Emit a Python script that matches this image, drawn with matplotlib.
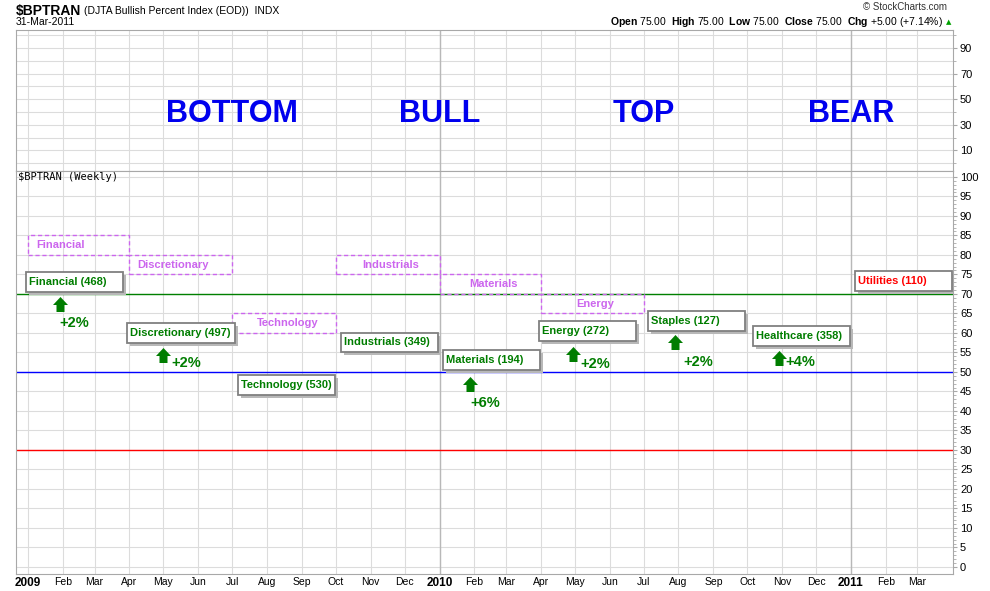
import matplotlib
matplotlib.use("Agg")
import matplotlib.pyplot as plt
import matplotlib.dates as mdates
from matplotlib.patches import Rectangle
from matplotlib.path import Path
from matplotlib import transforms
import pandas as pd

plt.rcParams['font.family'] = ['Liberation Sans', 'DejaVu Sans']
plt.rcParams['mathtext.fontset'] = 'custom'
plt.rcParams['mathtext.rm'] = 'Liberation Sans'
plt.rcParams['mathtext.bf'] = 'Liberation Sans:bold'

# market phases (top panel)
phases = ['BOTTOM', 'BULL', 'TOP', 'BEAR']
phase_dates = ['2009-07-01', '2010-01-01', '2010-07-01', '2011-01-01']

# model sector rotation (dashed boxes)
model_sectors = ['Financial', 'Discretionary', 'Technology', 'Industrials', 'Materials', 'Energy']
model_start = ['2009-01-01', '2009-04-01', '2009-07-01', '2009-10-01', '2010-01-01', '2010-04-01']
model_end = ['2009-04-01', '2009-07-01', '2009-10-01', '2010-01-01', '2010-04-01', '2010-07-01']
model_low = [80, 75, 60, 75, 70, 65]
model_high = [85, 80, 65, 80, 75, 70]

# actual leading sectors (solid boxes)
pick_labels = ['Financial (468)', 'Discretionary (497)', 'Technology (530)', 'Industrials (349)',
               'Materials (194)', 'Energy (272)', 'Staples (127)', 'Healthcare (358)', 'Utilities (110)']
pick_dates = ['2008-12-30', '2009-03-30', '2009-07-06', '2009-10-06', '2010-01-04',
              '2010-03-30', '2010-07-05', '2010-10-06', '2011-01-05']
pick_levels = [70.5, 57.5, 44.2, 55.1, 50.5, 58.0, 60.5, 56.7, 70.8]

# gains
gains = ['+2%', '+2%', '+6%', '+2%', '+2%', '+4%']
gain_dates = ['2009-01-29', '2009-05-01', '2010-01-28', '2010-04-29', '2010-07-29', '2010-10-29']
gain_levels = [67.3, 54.4, 46.8, 54.7, 57.6, 53.5]
gain_text_dates = ['2009-01-29', '2009-05-08', '2010-01-28', '2010-05-06', '2010-08-05', '2010-11-04']
gain_text_levels = [62.6, 52.3, 42.1, 52.1, 52.6, 52.6]

# reference levels
ref_levels = [70, 50, 30]
ref_colors = ['#008000', '#0000ff', '#ff0000']

GREEN = '#007d00'
VIOLET = '#cc66ee'
GRID = '#dcdcdc'
SPINE = '#a8a8a8'

W, H = 990, 591
fig = plt.figure(figsize=(W / 100, H / 100), dpi=100)


def place(l, t, r, b):
    return [l / W, 1 - b / H, (r - l) / W, (b - t) / H]


ax_top = fig.add_axes(place(16, 30, 953, 171))
ax = fig.add_axes(place(16, 171, 953, 574), sharex=ax_top)

months = pd.date_range('2009-01-01', '2011-03-01', freq='MS')
xlabels = [str(m.year) if m.month == 1 else m.strftime('%b') for m in months]

for a in (ax_top, ax):
    a.set_axisbelow(True)
    a.yaxis.tick_right()
    for s in a.spines.values():
        s.set_color(SPINE)
    a.set_xticks(months)
    a.grid(True, which='both', color=GRID, lw=0.8)
    for y in ['2010-01-01', '2011-01-01']:
        a.axvline(pd.Timestamp(y), color='#b8b8b8', lw=1.0, zorder=0.6)
    a.tick_params(axis='y', which='both', color=SPINE, labelsize=8, pad=2)
    a.tick_params(axis='y', which='major', length=3)
    a.tick_params(axis='y', which='minor', length=2)
    a.tick_params(axis='x', length=0)

ax.set_xlim(pd.Timestamp('2008-12-21 08:00'), pd.Timestamp('2011-04-01 12:00'))

# top panel
ax_top.set_ylim(-6, 104)
ax_top.set_yticks([10, 30, 50, 70, 90])
ax_top.set_yticks([0, 20, 40, 60, 80, 100], minor=True)
ax_top.tick_params(labelbottom=False)
for name, d in zip(phases, phase_dates):
    ax_top.text(pd.Timestamp(d), 38.5, name, ha='center', va='center', fontsize=22,
                fontweight='bold', color='#0000ee')

# bottom panel
ax.set_ylim(-1.8, 101.5)
ax.set_yticks(range(0, 101, 5))
ax.set_yticks(range(0, 101), minor=True)
ax.grid(False, which='minor')
ax.set_xticklabels(xlabels)
ax.tick_params(axis='x', labelsize=7.5, pad=2)
for lbl, m in zip(ax.get_xticklabels(), months):
    if m.month == 1:
        lbl.set_fontweight('bold')
        lbl.set_fontsize(8.5)

for lvl, c in zip(ref_levels, ref_colors):
    ax.axhline(lvl, color=c, lw=1.0, zorder=1)

ax.text(2 / 937, 1 - 6 / 403, r'\$BPTRAN (Weekly)', transform=ax.transAxes,
        fontsize=7.5, family='DejaVu Sans Mono', va='center', ha='left')

# model rotation boxes
for name, s, e, lo, hi in zip(model_sectors, model_start, model_end, model_low, model_high):
    xs, xe = mdates.date2num(pd.Timestamp(s)), mdates.date2num(pd.Timestamp(e))
    ax.add_patch(Rectangle((xs, lo), xe - xs, hi - lo, fill=False, ec=VIOLET,
                           ls=(0, (3, 2)), lw=1.0, zorder=2))
    if name in ('Financial', 'Discretionary'):
        ax.annotate(name, (xs, (lo + hi) / 2), xytext=(8, 0), textcoords='offset pixels',
                    ha='left', va='center', fontsize=8, fontweight='bold', color=VIOLET)
    else:
        ax.text((xs + xe) / 2 + 3, (lo + hi) / 2, name, ha='center', va='center',
                fontsize=8, fontweight='bold', color=VIOLET)

# actual picks: boxes sized to at least 97 px, wider if the text needs it
renderer = fig.canvas.get_renderer()
xl = ax.get_xlim()
px_per_day = ax.get_window_extent(renderer).width / (xl[1] - xl[0])
shadow = transforms.offset_copy(ax.transData, fig=fig, x=3, y=-3, units='dots')
for lab, d, lvl in zip(pick_labels, pick_dates, pick_levels):
    xd = mdates.date2num(pd.Timestamp(d))
    col = '#ff0000' if lab.startswith('Utilities') else GREEN
    t = ax.annotate(lab, (xd, lvl + 2.5), xytext=(3, 0), textcoords='offset pixels',
                    ha='left', va='center', fontsize=8, fontweight='bold', color=col, zorder=5)
    wpx = max(97, t.get_window_extent(renderer).width + 7)
    wd = wpx / px_per_day
    ax.add_patch(Rectangle((xd, lvl), wd, 5, transform=shadow, fc='#b8b8b8', ec='none', zorder=3))
    ax.add_patch(Rectangle((xd, lvl), wd, 5, fc='white', ec='#808080', lw=1.3, zorder=4))

# up arrows
arrow = Path([(-4, -7.5), (4, -7.5), (4, -0.5), (7.5, -0.5), (0, 7.5),
              (-7.5, -0.5), (-4, -0.5), (-4, -7.5)])
ax.plot(pd.to_datetime(gain_dates), gain_levels, ls='none', marker=arrow,
        markersize=10.8, color=GREEN, mec='none', zorder=5)
for g, d, lvl in zip(gains, gain_text_dates, gain_text_levels):
    ax.text(pd.Timestamp(d), lvl, g, ha='left', va='center', fontsize=10.5,
            fontweight='bold', color=GREEN, zorder=5)

# header
t1 = fig.text(16 / W, 1 - 11 / H, r'\$BPTRAN', fontsize=10, fontweight='bold', va='center')
ax.annotate('(DJTA Bullish Percent Index (EOD))  INDX', xy=(1, 0.5), xycoords=t1,
            xytext=(3, 0), textcoords='offset pixels', fontsize=7.5, va='center',
            annotation_clip=False)
fig.text(16 / W, 1 - 22 / H, '31-Mar-2011', fontsize=7.5, va='center')
fig.text(947 / W, 1 - 7 / H, '\u00a9 StockCharts.com', fontsize=7, ha='right', va='center',
         color='#333333')
fig.text(943 / W, 1 - 22 / H,
         r'$\mathbf{Open}$ 75.00  $\mathbf{High}$ 75.00  $\mathbf{Low}$ 75.00  '
         r'$\mathbf{Close}$ 75.00  $\mathbf{Chg}$ +5.00 (+7.14%)',
         fontsize=7.5, ha='right', va='center')
fig.text(949 / W, 1 - 22 / H, '\u25b2', fontsize=5, ha='center', va='center',
         color='#00a000', family='DejaVu Sans')

fig.savefig('out.png', dpi=100)
